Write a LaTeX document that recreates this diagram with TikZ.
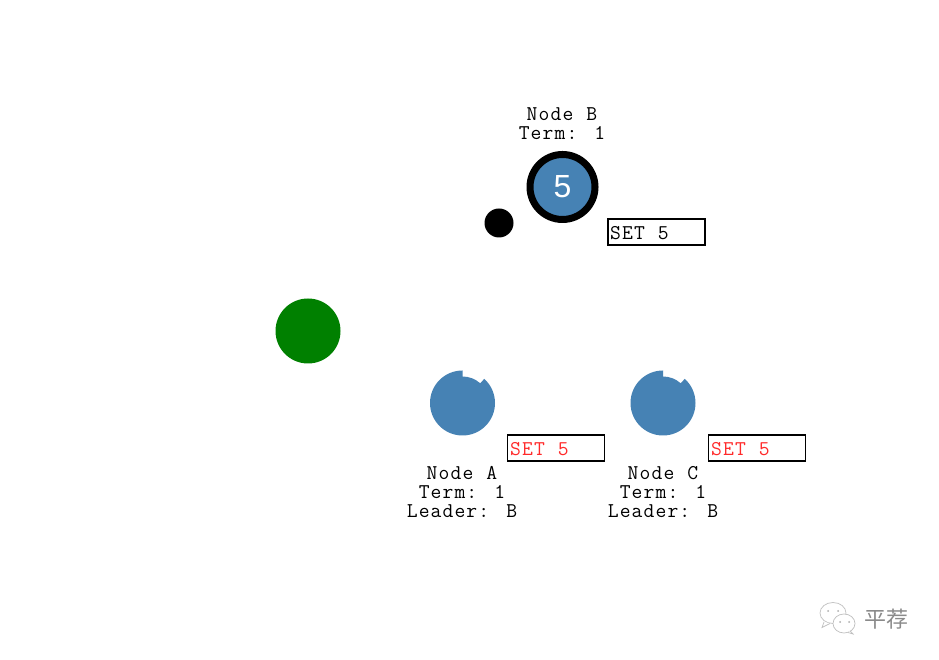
\documentclass[tikz,border=0pt]{standalone}
\usepackage{fontspec}
\setmainfont{Liberation Sans}
\newfontfamily\cjkfont{Noto Sans CJK SC}
\newfontfamily\slabmono[LetterSpace=5.3,WordSpace=1.1]{Latin Modern Mono}
\definecolor{nodeblue}{HTML}{4682B4}
\definecolor{msggreen}{HTML}{008000}
\definecolor{setred}{HTML}{FF2A2A}
\definecolor{markgray}{HTML}{8A8A8A}
\tikzset{
  x=1pt,y=1pt,
  mono/.style={font=\slabmono\fontsize{21}{19}\selectfont,align=center,inner sep=0pt,text=black},
  setbox/.style={draw=black,line width=1.3pt,minimum width=97pt,minimum height=26pt,inner sep=0pt,anchor=center},
  settext/.style={font=\slabmono\fontsize{21}{19}\selectfont,inner sep=0pt,anchor=west},
  notched/.pic={
    \fill[nodeblue] (90:32.5) arc[start angle=90,end angle=408,radius=32.5]
      -- (48:26.5) arc[start angle=48,end angle=90,radius=26.5] -- cycle;
  },
  bubble/.style={draw=markgray!55,line width=0.7pt,fill=white}
}
\begin{document}
\begin{tikzpicture}
\useasboundingbox (0,0) rectangle (939,660);
\fill[white] (0,0) rectangle (939,660);
% leader
\node[circle,fill=nodeblue,draw=black,line width=7pt,minimum size=65pt,inner sep=0pt,text=white,font=\fontsize{32}{32}\selectfont] (nodeB) at (562.5,473) {5};
\node[mono,anchor=center] (labelB) at (562,536.5) {Node B\\Term: 1};
\node[setbox] (setB) at (656.5,428) {};
\node[settext] (setBt) at (610,426.5) {SET 5};
% message dots
\node[circle,fill=black,minimum size=29pt,inner sep=0pt] (dot) at (499,437) {};
\node[circle,fill=msggreen,minimum size=65pt,inner sep=0pt] (green) at (308,329) {};
% followers
\pic at (462.5,257) {notched};
\pic at (663,257) {notched};
\node[mono,anchor=center] (labelA) at (462,168) {Node A\\Term: 1\\Leader: B};
\node[mono,anchor=center] (labelC) at (663,168) {Node C\\Term: 1\\Leader: B};
\node[setbox] (setA) at (556,212) {};
\node[settext,text=setred] (setAt) at (510,210.5) {SET 5};
\node[setbox] (setC) at (757,212) {};
\node[settext,text=setred] (setCt) at (711,210.5) {SET 5};
% watermark
\draw[bubble] (833,47) ellipse[x radius=13,y radius=10.5];
\draw[bubble] (824,38) -- (822,32.5) -- (830,36.5);
\draw[bubble] (844,36.5) ellipse[x radius=11,y radius=9.5];
\draw[bubble] (850,29) -- (853,26) -- (848,27.5);
\fill[markgray!70] (828,49) circle (1) (838,49) circle (1) (840,38) circle (1) (849,38) circle (1);
\node[font=\cjkfont\fontsize{22}{22}\selectfont,text=markgray,inner sep=0pt] (mark) at (886.5,41) {平荐};
\end{tikzpicture}
\end{document}
